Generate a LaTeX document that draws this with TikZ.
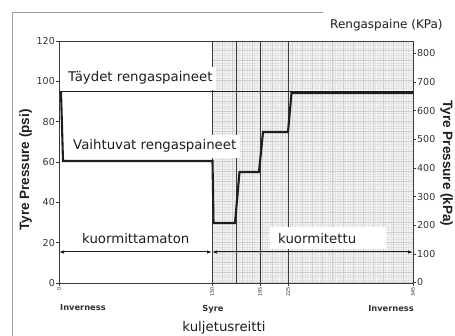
\documentclass[tikz,border=0pt]{standalone}
\usepackage{fontspec}
\setmainfont{DejaVu Sans}
\newfontfamily\arialfont{Liberation Sans}
\usetikzlibrary{arrows.meta}
\definecolor{ink}{HTML}{1E1E1E}
\definecolor{axisgray}{HTML}{3A3A3A}
\definecolor{numgray}{HTML}{333333}
\begin{document}
\begin{tikzpicture}[x=1pt,y=-1pt,
  lbl/.style={font=\fontsize{13.3}{15}\selectfont, text=ink, inner sep=0pt},
  boxlbl/.style={lbl, fill=white, inner xsep=4pt, inner ysep=5pt},
  ticklbl/.style={font=\fontsize{9.5}{11}\selectfont, text=numgray, inner sep=0pt},
  xticklbl/.style={font=\fontsize{5}{6}\selectfont, text=numgray, inner sep=0pt, rotate=90, anchor=east},
  placelbl/.style={font=\bfseries\fontsize{8.3}{10}\selectfont, text=numgray, inner sep=0pt},
  ytitle/.style={font=\arialfont\bfseries\fontsize{13.5}{15}\selectfont, text=ink, inner sep=0pt},
  tickline/.style={axisgray, line width=0.7pt},
  vline/.style={axisgray, line width=1pt},
  dataline/.style={ink, line width=2.1pt, line join=miter},
  fullline/.style={ink, line width=1.7pt},
  span/.style={ink, line width=1pt, {Latex[length=5pt,width=3.6pt]}-{Latex[length=5pt,width=3.6pt]}}
]
\useasboundingbox (0,0) rectangle (455,336);
\fill[white] (0,0) rectangle (455,336);
% outer frame (partly cut)
\draw[gray!75, line width=0.8pt] (12,336) -- (12,12) -- (323,12);
% shaded grid region
\fill[gray!6] (212,41) rectangle (413,283);
\draw[gray!22, line width=0.2pt, xstep=2.52pt, ystep=2.52pt] (212,283) grid (413,41);
\draw[gray!38, line width=0.3pt, xstep=10.08pt, ystep=10.08pt] (212,283) grid (413,41);
% vertical route markers
\foreach \xx/\nm in {212/syre,236/va,260/vb,288/vc} {
  \coordinate (\nm t) at (\xx,41);
  \coordinate (\nm b) at (\xx,283);
  \draw[vline] (\nm t) -- (\nm b);
}
% plot frame
\draw[axisgray, line width=0.9pt] (59,41) rectangle (413,283);
% left ticks
\foreach \v/\yy in {0/283,20/242.7,40/202.3,60/162,80/121.7,100/81.3,120/41} {
  \draw[tickline] (56,\yy) -- (59,\yy);
  \node[ticklbl, anchor=east] (psi\v) at (55,\yy) {\v};
}
% right ticks
\foreach \v in {0,100,...,800} {
  \pgfmathsetmacro\yy{282.5-\v*0.2863}
  \draw[tickline] (413,\yy) -- (416,\yy);
  \node[ticklbl, anchor=west] (kpa\v) at (417,\yy) {\v};
}
% bottom ticks and labels
\foreach \xx/\v in {59/0,212/150,260/195,288/225,413/345} {
  \draw[tickline] (\xx,283) -- (\xx,286);
  \node[xticklbl] (km\v) at (\xx,287) {\v};
}
% labels with white backgrounds
\node[boxlbl, anchor=base west] (full) at (64,82) {Täydet rengaspaineet};
\node[boxlbl, anchor=base west] (vary) at (69,150) {Vaihtuvat rengaspaineet};
% data lines
\draw[fullline] (59,91.6) -- (413,91.6);
\draw[dataline] (61,92) -- (63,161) -- (212.5,161) -- (213.5,223) -- (235,223)
  -- (239.5,172) -- (259,172) -- (263,132) -- (288,132) -- (291.5,93) -- (413,93);
% loaded / unloaded spans
\coordinate (aL) at (59,252);
\coordinate (aM) at (212,252);
\coordinate (aR) at (413,252);
\fill[white] (270,227) rectangle (386,249.5);
\node[lbl, anchor=base west] (unl) at (82,244) {kuormittamaton};
\node[lbl, anchor=base west] (lod) at (278,244) {kuormitettu};
\draw[span] (aL) -- (aM);
\draw[span] (aM) -- (aR);
% places
\node[placelbl, anchor=base west] (inv1) at (60,311) {Inverness};
\node[placelbl, anchor=base] (syr) at (213,312) {Syre};
\node[placelbl, anchor=base east] (inv2) at (414,312) {Inverness};
\node[lbl, anchor=base] (route) at (224,332) {kuljetusreitti};
% axis titles
\node[ytitle, rotate=90, anchor=base] (ypsi) at (29,170) {Tyre Pressure (psi)};
\node[ytitle, rotate=-90, anchor=base] (ykpa) at (443,163.5) {Tyre Pressure (kPa)};
\node[font=\fontsize{12}{14}\selectfont, text=ink, inner sep=0pt, anchor=base west] (rkpa) at (330,29) {Rengaspaine (KPa)};
\end{tikzpicture}
\end{document}
